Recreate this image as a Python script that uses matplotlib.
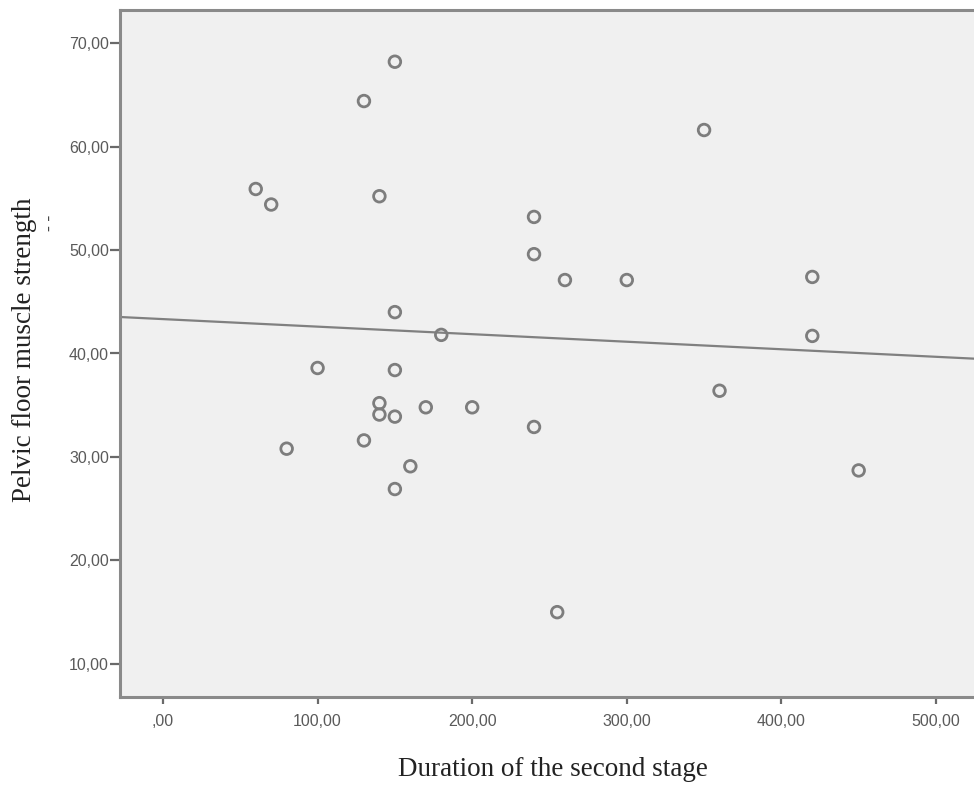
import numpy as np
import matplotlib
matplotlib.use("Agg")
import matplotlib.pyplot as plt
from matplotlib.ticker import FuncFormatter

# Data
duration = [150, 130, 60, 70, 140, 350, 240, 240, 260, 300, 420, 420, 150, 180,
            100, 150, 140, 140, 150, 170, 200, 360, 240, 130, 80, 160, 150, 450, 255]
strength = [68.2, 64.4, 55.9, 54.4, 55.2, 61.6, 53.2, 49.6, 47.1, 47.1, 47.4, 41.7, 44.0, 41.8,
            38.6, 38.4, 35.2, 34.1, 33.9, 34.8, 34.8, 36.4, 32.9, 31.6, 30.8, 29.1, 26.9, 28.7, 15.0]
x_ticks = [0, 100, 200, 300, 400, 500]
y_ticks = [10, 20, 30, 40, 50, 60, 70]
x_label = "Duration of the second stage"
y_label = "Pelvic floor muscle strength"

fig = plt.figure(figsize=(9.74, 7.87), dpi=100)
ax = fig.add_axes([120/974, 1-697/787, 1-120/974, (697-10)/787])
ax.set_facecolor("#f0f0f0")

ax.scatter(duration, strength, s=70, facecolors="none", edgecolors="#7d7d7d",
           linewidths=2.0, zorder=3)

xlim = (-27.8, 524.6)
slope, intercept = np.polyfit(duration, strength, 1)
xs = np.array(xlim)
ax.plot(xs, intercept + slope*xs, color="#808080", lw=1.6, zorder=2)

ax.set_xlim(*xlim)
ax.set_ylim(6.8, 73.2)
ax.set_xticks(x_ticks)
ax.set_yticks(y_ticks)

fmt = FuncFormatter(lambda v, p: ("%.2f" % v).replace(".", ",").lstrip("0") if v == 0 else ("%.2f" % v).replace(".", ","))
ax.xaxis.set_major_formatter(fmt)
ax.yaxis.set_major_formatter(fmt)

for s in ["left", "bottom", "top"]:
    ax.spines[s].set_color("#8a8a8a")
    ax.spines[s].set_linewidth(2.2)
ax.spines["right"].set_visible(False)

ax.tick_params(axis="both", colors="#6a6a6a", width=1.6, length=7,
               labelsize=11.5, labelcolor="#5a5a5a")
ax.tick_params(axis="y", pad=1)
ax.tick_params(axis="x", pad=7, length=5)
for lab in ax.get_xticklabels() + ax.get_yticklabels():
    lab.set_family("Liberation Sans")

ax.set_xlabel(x_label, family="Liberation Serif", fontsize=19.5, color="#222222")
ax.set_ylabel(y_label, family="Liberation Serif", fontsize=19.5, color="#222222")
ax.xaxis.set_label_coords((553-120)/854, -(770-697)/687)
ax.yaxis.set_label_coords(-(120-25)/854, (697-350)/687)
for lbl in (ax.xaxis.label, ax.yaxis.label):
    lbl.set_va("center")
fig.text(50/974, 1-223/787, "- -", rotation=90, ha="center", va="center",
         fontsize=13, color="#444444", family="Liberation Serif")

fig.savefig("out.png", dpi=100)
